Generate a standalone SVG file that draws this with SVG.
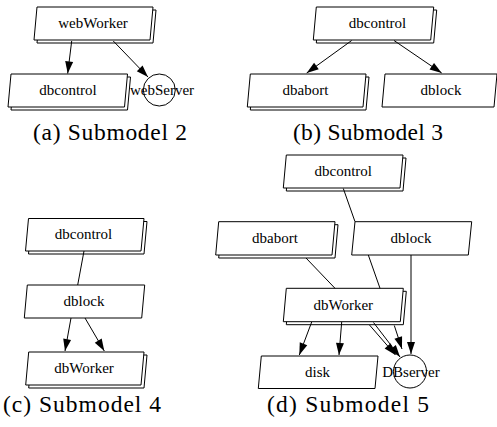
<svg xmlns="http://www.w3.org/2000/svg" width="497" height="427" viewBox="0 0 497 427">
<defs>
<style>
.box{fill:#fff;stroke:#000;stroke-width:1}
.lbl{font-family:"Liberation Serif","Times New Roman",serif;font-size:15px;text-anchor:middle;fill:#000}
.cap{font-family:"Liberation Serif","Times New Roman",serif;font-size:23.5px;fill:#000}
.edge{stroke:#000;stroke-width:1;fill:none}
.arr{marker-end:url(#ah)}
</style>
<marker id="ah" markerUnits="userSpaceOnUse" markerWidth="12" markerHeight="8" refX="12" refY="4" orient="auto" overflow="visible">
<path d="M0,0 L12,4 L0,8 z" fill="#000"/>
</marker>
</defs>
<rect width="497" height="427" fill="#fff"/>

<!-- (a) Submodel 2 -->
<g id="a-webWorker">
<polygon class="box" points="40,10 156,10 153,43 37,43"/>
<polygon class="box" points="37,7 153,7 150,40 34,40"/>
<text class="lbl" x="93" y="28">webWorker</text>
</g>
<g id="a-dbcontrol">
<polygon class="box" points="14,77 130.5,77 127.5,110 11,110"/>
<polygon class="box" points="11,74 127.5,74 124.5,107 8,107"/>
<text class="lbl" x="68" y="95">dbcontrol</text>
</g>
<g id="a-webServer">
<circle class="box" cx="159.3" cy="90" r="16"/>
<text class="lbl" x="162" y="95">webServer</text>
</g>
<g id="a-edges">
<line class="edge arr" x1="71.7" y1="41" x2="67.7" y2="73.5"/>
<line class="edge arr" x1="113.3" y1="41" x2="148" y2="77"/>
</g>
<text class="cap" x="33" y="140" textLength="154" lengthAdjust="spacing">(a) Submodel 2</text>

<!-- (b) Submodel 3 -->
<g id="b-dbcontrol">
<polygon class="box" points="319.3,10 436.7,10 433.7,43 316.3,43"/>
<polygon class="box" points="316.3,7 433.7,7 430.7,40 313.3,40"/>
<text class="lbl" x="377.5" y="28">dbcontrol</text>
</g>
<g id="b-dbabort">
<polygon class="box" points="253.3,77 369,77 366,110 250.3,110"/>
<polygon class="box" points="250.3,74 366,74 363,107 247.3,107"/>
<text class="lbl" x="305.5" y="95">dbabort</text>
</g>
<g id="b-dblock">
<polygon class="box" points="385,74 497,74 494,107 382,107"/>
<text class="lbl" x="441" y="95">dblock</text>
</g>
<g id="b-edges">
<line class="edge arr" x1="351.7" y1="40.5" x2="306.7" y2="73"/>
<line class="edge arr" x1="394" y1="40.5" x2="441.7" y2="73"/>
</g>
<text class="cap" x="293" y="140" textLength="150" lengthAdjust="spacing">(b) Submodel 3</text>

<!-- (c) Submodel 4 -->
<g id="c-dbcontrol">
<polygon class="box" points="31.5,221.5 147,221.5 144,254 28.5,254"/>
<polygon class="box" points="28.5,218.5 144,218.5 141,251 25.5,251"/>
<text class="lbl" x="83.5" y="239">dbcontrol</text>
</g>
<g id="c-dblock">
<polygon class="box" points="27.3,285 144.7,285 141.7,318 24.3,318"/>
<text class="lbl" x="84" y="306">dblock</text>
</g>
<g id="c-dbWorker">
<polygon class="box" points="31.7,355 147,355 144,388 28.7,388"/>
<polygon class="box" points="28.7,352 144,352 141,385 25.7,385"/>
<text class="lbl" x="84" y="373">dbWorker</text>
</g>
<g id="c-edges">
<line class="edge" x1="84" y1="251" x2="77.7" y2="285"/>
<line class="edge arr" x1="71" y1="318" x2="65" y2="351"/>
<line class="edge arr" x1="85" y1="318" x2="104.3" y2="351"/>
</g>
<text class="cap" x="3" y="412" textLength="158" lengthAdjust="spacing">(c) Submodel 4</text>

<!-- (d) Submodel 5 -->
<g id="d-dbcontrol">
<polygon class="box" points="289.3,158 406,158 403,191 286.3,191"/>
<polygon class="box" points="286.3,155 403,155 400,188 283.3,188"/>
<text class="lbl" x="343.3" y="176">dbcontrol</text>
</g>
<g id="d-dbabort">
<polygon class="box" points="221.7,224.7 338,224.7 335,258 218.7,258"/>
<polygon class="box" points="218.7,221.7 335,221.7 332,255 215.7,255"/>
<text class="lbl" x="275" y="243">dbabort</text>
</g>
<g id="d-dblock">
<polygon class="box" points="355,221.7 471.7,221.7 468.3,255 351.7,255"/>
<text class="lbl" x="411" y="243">dblock</text>
</g>
<g id="d-dbWorker">
<polygon class="box" points="289.3,291.3 406.3,291.3 403.3,324.7 286.3,324.7"/>
<polygon class="box" points="286.3,288.3 403.3,288.3 400.3,321.7 283.3,321.7"/>
<text class="lbl" x="343.3" y="310">dbWorker</text>
</g>
<g id="d-disk">
<polygon class="box" points="261.3,356 378,356 375,388.5 258.3,388.5"/>
<text class="lbl" x="317.5" y="377">disk</text>
</g>
<g id="d-DBserver">
<circle class="box" cx="410" cy="371.5" r="16.5"/>
<text class="lbl" x="411" y="376.5">DBserver</text>
</g>
<g id="d-edges">
<line class="edge" x1="343.3" y1="188.5" x2="355" y2="221.7"/>
<line class="edge" x1="306" y1="258" x2="335" y2="288.3"/>
<line class="edge" x1="368.3" y1="255" x2="380" y2="288.3"/>
<line class="edge arr" x1="411" y1="255" x2="411" y2="354"/>
<line class="edge arr" x1="311.7" y1="322" x2="299.3" y2="355"/>
<line class="edge arr" x1="341.7" y1="322" x2="339" y2="355"/>
<line class="edge arr" x1="369.5" y1="325" x2="395.5" y2="355"/>
<line class="edge arr" x1="373.5" y1="322.5" x2="400" y2="357"/>
<line class="edge arr" x1="394.3" y1="325.5" x2="402" y2="349"/>
</g>
<text class="cap" x="267" y="412" textLength="162" lengthAdjust="spacing">(d) Submodel 5</text>
</svg>
